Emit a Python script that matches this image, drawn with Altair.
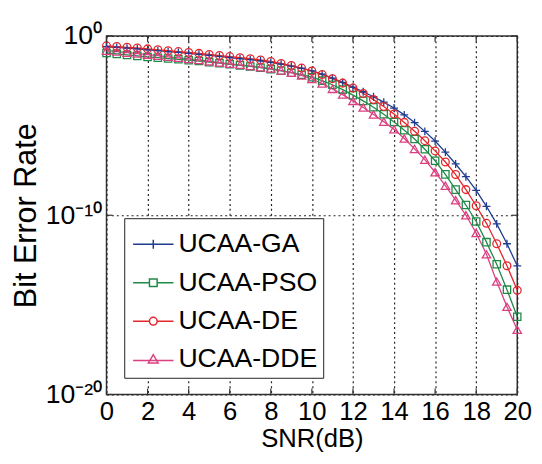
import altair as alt
import pandas as pd

snr = [0, 0.5, 1, 1.5, 2, 2.5, 3, 3.5, 4, 4.5, 5, 5.5, 6, 6.5, 7, 7.5, 8, 8.5, 9, 9.5,
       10, 10.5, 11, 11.5, 12, 12.5, 13, 13.5, 14, 14.5, 15, 15.5, 16, 16.5, 17, 17.5,
       18, 18.5, 19, 19.5, 20]

# log10(BER)
ga_exp = [-0.60, -0.64, -0.68, -0.72, -0.77, -0.82, -0.87, -0.92, -0.97, -1.02, -1.08,
          -1.14, -1.20, -1.26, -1.32, -1.39, -1.47, -1.57, -1.68, -1.80, -1.95, -2.13,
          -2.35, -2.59, -2.85, -3.11, -3.39, -3.69, -4.02, -4.40, -4.83, -5.32, -5.86,
          -6.48, -7.14, -7.85, -8.61, -9.50, -10.48, -11.59, -12.82]
pso_exp = [-0.95, -1.00, -1.06, -1.11, -1.17, -1.21, -1.26, -1.30, -1.35, -1.40, -1.46,
           -1.52, -1.58, -1.64, -1.70, -1.77, -1.85, -1.94, -2.05, -2.16, -2.30, -2.49,
           -2.72, -2.99, -3.30, -3.62, -3.98, -4.37, -4.80, -5.26, -5.75, -6.32, -6.96,
           -7.72, -8.57, -9.43, -10.35, -11.50, -12.73, -14.15, -15.66]
de_exp = [-0.55, -0.59, -0.63, -0.67, -0.72, -0.77, -0.82, -0.87, -0.92, -0.97, -1.03,
          -1.09, -1.15, -1.21, -1.27, -1.34, -1.42, -1.53, -1.65, -1.79, -1.95, -2.15,
          -2.38, -2.63, -2.90, -3.21, -3.55, -3.93, -4.35, -4.82, -5.31, -5.84, -6.41,
          -7.03, -7.73, -8.57, -9.47, -10.45, -11.59, -12.82, -14.19]
dde_exp = [-0.82, -0.87, -0.93, -0.98, -1.04, -1.10, -1.16, -1.22, -1.28, -1.34, -1.41,
           -1.48, -1.55, -1.61, -1.67, -1.74, -1.82, -1.92, -2.05, -2.20, -2.40, -2.65,
           -2.95, -3.27, -3.62, -3.99, -4.38, -4.78, -5.20, -5.72, -6.30, -6.90, -7.60,
           -8.35, -9.16, -10.00, -10.99, -12.18, -13.70, -15.11, -16.39]

series_names = ["UCAA-GA", "UCAA-PSO", "UCAA-DE", "UCAA-DDE"]
series_colors = ["#1f3c8f", "#1f8a45", "#e3262b", "#dc3f80"]
x_ticks = [0, 2, 4, 6, 8, 10, 12, 14, 16, 18, 20]
y_ticks = [1, 1e-10, 1e-20]

rows = []
for name, exps in zip(series_names, [ga_exp, pso_exp, de_exp, dde_exp]):
    for s, e in zip(snr, exps):
        rows.append({"series": name, "snr": s, "ber": 10 ** e})
df = pd.DataFrame(rows)

W, H = 417, 364
FONT = "Liberation Sans"

xscale = alt.Scale(domain=[0, 20], nice=False, zero=False)
yscale = alt.Scale(type="log", domain=[1e-20, 1], nice=False)

xaxis = alt.Axis(values=x_ticks, format="d", grid=True, ticks=False, domain=False,
                 labelOverlap=False, labelFlush=False, labelFontSize=26, labelFont=FONT,
                 labelColor="black", labelPadding=4, titleFontSize=26, titleFont=FONT,
                 titleFontWeight="normal", titleColor="black",
                 titleY=53, titleBaseline="alphabetic",
                 gridDash=[2, 3], gridColor="#222", gridWidth=1.2)
yaxis = alt.Axis(values=y_ticks, grid=True, ticks=False, domain=False, labelOverlap=False,
                 labelFlush=False,
                 labelExpr="datum.value >= 0.5 ? '10⁰' : (datum.value > 1e-15 ? '10⁻¹⁰' : '10⁻²⁰')",
                 labelFontSize=27, labelFont=FONT, labelColor="black",
                 labelPadding=5, titleFontSize=31, titleFont=FONT,
                 titleFontWeight="normal", titleColor="black",
                 titleX=-72, titleY=H / 2, titleAngle=270, titleAlign="center",
                 titleBaseline="alphabetic",
                 gridDash=[2, 3], gridColor="#222", gridWidth=1.2)


def xe(field="snr"):
    return alt.X(f"{field}:Q", scale=xscale, title="SNR(dB)", axis=xaxis)


def ye(field="ber"):
    return alt.Y(f"{field}:Q", scale=yscale, title="Bit Error Rate", axis=yaxis)


shapes = {
    "UCAA-GA": ("M-1,0H1M0,-1V1", 64),
    "UCAA-PSO": ("square", 55),
    "UCAA-DE": ("circle", 62),
    "UCAA-DDE": ("triangle-up", 72),
}

layers = []
for name, col in zip(series_names, series_colors):
    base = alt.Chart(df).transform_filter(alt.datum.series == name)
    layers.append(base.mark_line(strokeWidth=1.3, color=col).encode(x=xe(), y=ye()))
for name, col in zip(series_names, series_colors):
    shp, sz = shapes[name]
    base = alt.Chart(df).transform_filter(alt.datum.series == name)
    layers.append(base.mark_point(shape=shp, size=sz, filled=False, strokeWidth=1.3,
                                  opacity=1, color=col).encode(x=xe(), y=ye()))

# inward ticks (MATLAB style)
df_xt = pd.DataFrame({"snr": x_ticks})
df_yt = pd.DataFrame({"ber": y_ticks})
tick_style = dict(color="#333", strokeWidth=1.2)
layers.append(alt.Chart(df_xt).mark_rule(**tick_style).encode(x=xe(), y=alt.value(H), y2=alt.value(H - 6)))
layers.append(alt.Chart(df_xt).mark_rule(**tick_style).encode(x=xe(), y=alt.value(0), y2=alt.value(6)))
layers.append(alt.Chart(df_yt).mark_rule(**tick_style).encode(y=ye(), x=alt.value(0), x2=alt.value(6)))
layers.append(alt.Chart(df_yt).mark_rule(**tick_style).encode(y=ye(), x=alt.value(W), x2=alt.value(W - 6)))

# legend (points placed outside the plotted range and clipped; only the legend shows)
legend_paths = [
    "M-1,0H1M0,-0.22V0.22",
    "M-1,0H-0.19M0.19,0H1M-0.19,-0.19H0.19V0.19H-0.19Z",
    "M-1,0H-0.19M0.19,0H1M-0.19,0A0.19,0.19,0,1,0,0.19,0A0.19,0.19,0,1,0,-0.19,0",
    "M-1,0.05H1M-0.24,0.17L0,-0.24L0.24,0.17Z",
]
leg = alt.Legend(orient="none", legendX=18, legendY=185, title=None,
                 labelFont=FONT, labelFontSize=27, labelColor="black", labelOffset=4,
                 symbolSize=1681, symbolStrokeWidth=1.5, symbolOffset=3, symbolOpacity=1,
                 strokeColor="#222", fillColor="white", padding=5, rowPadding=4,
                 labelLimit=300)
df_leg = pd.DataFrame({"series": series_names, "snr": [10] * 4, "ber": [1e-30] * 4})
layers.append(alt.Chart(df_leg).mark_point(filled=False, clip=True, strokeWidth=1.5, opacity=1).encode(
    x=xe(), y=ye(),
    color=alt.Color("series:N", scale=alt.Scale(domain=series_names, range=series_colors), legend=leg),
    shape=alt.Shape("series:N", scale=alt.Scale(domain=series_names, range=legend_paths), legend=leg),
))

chart = alt.layer(*layers).properties(
    width=W, height=H,
    padding={"left": 100, "top": 25, "right": 17, "bottom": 59},
    autosize=alt.AutoSizeParams(type="none"),
    background="white",
).configure_view(stroke="#333", strokeWidth=1.5)

chart.save("out.html", embed_options={"renderer": "svg", "actions": False})
